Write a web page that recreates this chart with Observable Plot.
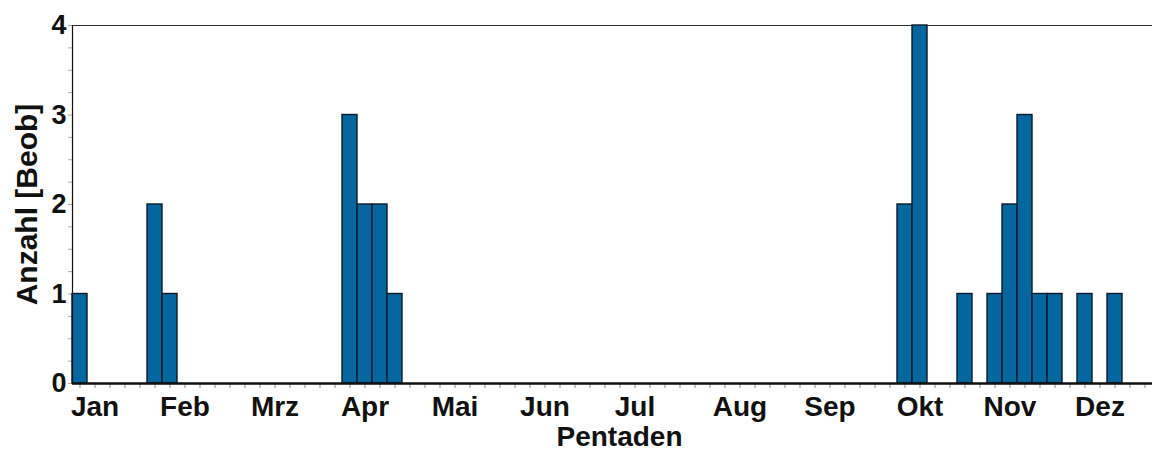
<!DOCTYPE html>
<html>
<head>
<meta charset="utf-8">
<script src="https://cdn.jsdelivr.net/npm/d3@7"></script>
<script src="https://cdn.jsdelivr.net/npm/@observablehq/plot@0.6"></script>
<style>
  html, body { margin: 0; padding: 0; background: #fff; }
  #chart svg { display: block; }
</style>
</head>
<body>
<div id="chart"></div>
<script>
// Pentad number (1..72) and number of observations
const pentads = [1, 6, 7, 19, 20, 21, 22, 56, 57, 60, 62, 63, 64, 65, 66, 68, 70];
const counts  = [1, 2, 1, 3, 2, 2, 1, 2, 4, 1, 1, 2, 3, 1, 1, 1, 1];
// Month labels and their position on the pentad scale
const months   = ["Jan", "Feb", "Mrz", "Apr", "Mai", "Jun", "Jul", "Aug", "Sep", "Okt", "Nov", "Dez"];
const monthPos = [1.5, 7.5, 13.5, 19.5, 25.5, 31.5, 37.5, 44.5, 50.5, 56.5, 62.5, 68.5];
const yTicks = [0, 1, 2, 3, 4];
const nPentads = 72;

const data = pentads.map((p, i) => ({p0: p - 1, p1: p, n: counts[i]}));
const pentadCenters = d3.range(nPentads).map(i => i + 0.5);
const minorY = d3.range(0, 4.001, 0.25);
const blank = () => "";

const font = "'Liberation Sans', Arial, sans-serif";

const chart = Plot.plot({
  width: 1154,
  height: 450,
  marginLeft: 72,
  marginRight: 2,
  marginTop: 25,
  marginBottom: 67,
  style: {fontFamily: font, background: "#fff", overflow: "visible"},
  x: {domain: [0, nPentads], axis: null},
  y: {domain: [0, 4], axis: null},
  marks: [
    Plot.ruleY([4], {stroke: "#333", strokeWidth: 1}),
    Plot.axisY(minorY, {tickSize: 4, tickFormat: blank, stroke: "#aaa", strokeWidth: 1, label: null}),
    Plot.axisX(pentadCenters, {tickSize: 5, tickFormat: blank, stroke: "#888", strokeWidth: 1, label: null}),
    Plot.rectY(data, {x1: "p0", x2: "p1", y: "n", fill: "#05679f", stroke: "#0a1a2a", strokeWidth: 1.4}),
    Plot.ruleX([0], {stroke: "#111", strokeWidth: 1.2}),
    Plot.ruleY([0], {stroke: "#111", strokeWidth: 2.5}),
    Plot.text(yTicks, {y: d => d, frameAnchor: "left", dx: -6, textAnchor: "end", lineAnchor: "middle",
      text: d => String(d), fontSize: 27, fontWeight: "bold", fill: "#111"}),
    Plot.text(months, {x: (d, i) => monthPos[i], frameAnchor: "bottom", dy: 32, lineAnchor: "bottom",
      text: d => d, fontSize: 28, fontWeight: "bold", fill: "#111"}),
    Plot.text(["Pentaden"], {frameAnchor: "bottom", dx: 7, dy: 62, lineAnchor: "bottom",
      text: d => d, fontSize: 28, fontWeight: "bold", fill: "#111"}),
    Plot.text(["Anzahl [Beob]"], {frameAnchor: "left", dx: -45, rotate: -90, textAnchor: "middle", lineAnchor: "middle",
      text: d => d, fontSize: 30, fontWeight: "bold", fill: "#111"})
  ]
});
document.getElementById("chart").appendChild(chart);
</script>
</body>
</html>
